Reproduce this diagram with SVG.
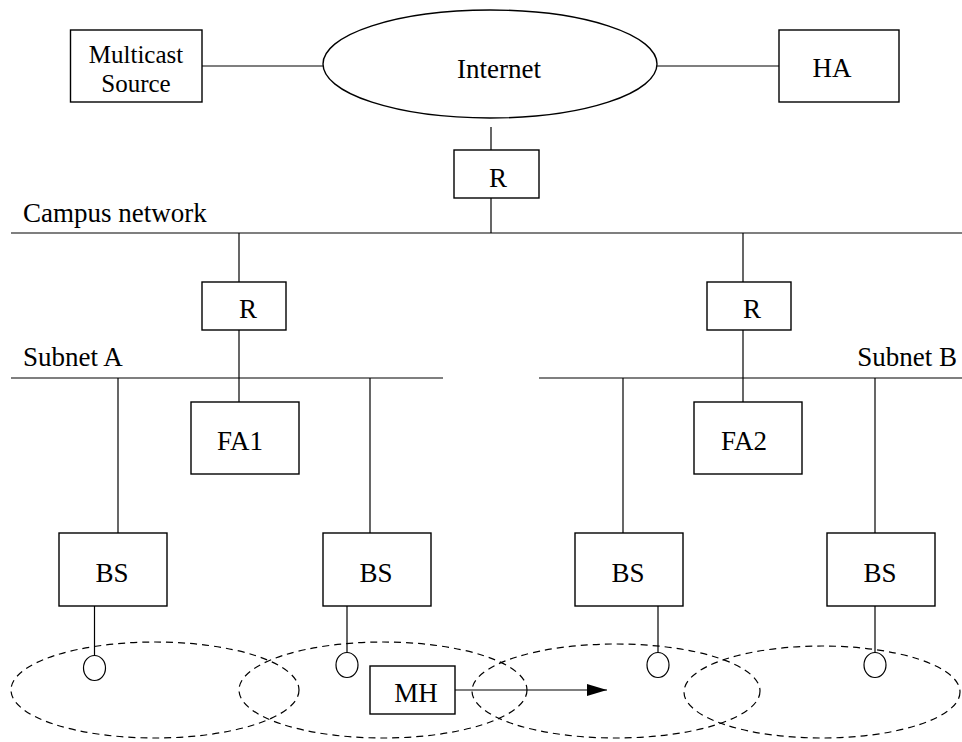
<svg xmlns="http://www.w3.org/2000/svg" width="962" height="742" viewBox="0 0 962 742">
<style>
.box{fill:#fff;stroke:#000;stroke-width:1.4}
.ln{stroke:#000;stroke-width:1.2;fill:none}
.cell{fill:none;stroke:#000;stroke-width:1.2;stroke-dasharray:7 5}
.ant{fill:#fff;stroke:#000;stroke-width:1.2}
text{font-family:"Times New Roman","Liberation Serif","DejaVu Serif",serif;font-size:27px;fill:#000}
.c{text-anchor:middle}
.sm{font-size:25px}
</style>
<defs>
<marker id="ah" markerWidth="20" markerHeight="12" refX="20" refY="6" orient="auto" markerUnits="userSpaceOnUse">
<path d="M0,0 L20,6 L0,12 Z" fill="#000"/>
</marker>
</defs>
<rect width="962" height="742" fill="#fff"/>
<g id="connectors">
<line class="ln" x1="202" y1="66" x2="323" y2="66"/>
<line class="ln" x1="657" y1="66" x2="779" y2="66"/>
<line class="ln" x1="491" y1="127" x2="491" y2="150"/>
<line class="ln" x1="491" y1="198" x2="491" y2="233"/>
<line class="ln" x1="11" y1="233" x2="962" y2="233"/>
<line class="ln" x1="239" y1="233" x2="239" y2="282"/>
<line class="ln" x1="743" y1="233" x2="743" y2="282"/>
<line class="ln" x1="239" y1="330" x2="239" y2="402"/>
<line class="ln" x1="743" y1="330" x2="743" y2="402"/>
<line class="ln" x1="11" y1="378" x2="443" y2="378"/>
<line class="ln" x1="539" y1="378" x2="962" y2="378"/>
<line class="ln" x1="118" y1="378" x2="118" y2="533"/>
<line class="ln" x1="370" y1="378" x2="370" y2="533"/>
<line class="ln" x1="623" y1="378" x2="623" y2="533"/>
<line class="ln" x1="875" y1="378" x2="875" y2="533"/>
<line class="ln" x1="94.5" y1="606" x2="94.5" y2="656"/>
<line class="ln" x1="347" y1="606" x2="347" y2="653"/>
<line class="ln" x1="658" y1="606" x2="658" y2="653"/>
<line class="ln" x1="875" y1="606" x2="875" y2="653"/>
<line class="ln" x1="455" y1="690" x2="607" y2="690" stroke-width="1.6" marker-end="url(#ah)"/>
</g>
<g id="cells">
<ellipse class="cell" cx="155" cy="690" rx="144" ry="48"/>
<ellipse class="cell" cx="383" cy="690" rx="144" ry="48"/>
<ellipse class="cell" cx="616" cy="691" rx="144" ry="47"/>
<ellipse class="cell" cx="822" cy="692" rx="138" ry="46"/>
</g>
<g id="antennas">
<ellipse class="ant" cx="94.5" cy="668" rx="11" ry="12.5"/>
<ellipse class="ant" cx="347" cy="665" rx="11" ry="12.5"/>
<ellipse class="ant" cx="658" cy="665" rx="11" ry="12.5"/>
<ellipse class="ant" cx="875" cy="665" rx="11" ry="12.5"/>
</g>
<g id="multicast-source">
<rect class="box" x="70.5" y="30" width="131.5" height="72"/>
<text class="c sm" x="136" y="63">Multicast</text>
<text class="c sm" x="136" y="92">Source</text>
</g>
<g id="internet">
<ellipse class="box" cx="490" cy="64" rx="167" ry="54" stroke-width="1.2"/>
<text class="c" x="499" y="78">Internet</text>
</g>
<g id="ha">
<rect class="box" x="779" y="30" width="120" height="72"/>
<text class="c" x="832" y="77">HA</text>
</g>
<g id="r-top">
<rect class="box" x="454" y="150" width="85" height="48"/>
<text class="c" x="498" y="187">R</text>
</g>
<g id="campus-label"><text x="23" y="222">Campus network</text></g>
<g id="r-a">
<rect class="box" x="202" y="282" width="84" height="48"/>
<text class="c" x="248" y="318">R</text>
</g>
<g id="r-b">
<rect class="box" x="707" y="282" width="84" height="48"/>
<text class="c" x="752" y="318">R</text>
</g>
<g id="subnet-a-label"><text x="23" y="366">Subnet A</text></g>
<g id="subnet-b-label"><text x="957" y="366" text-anchor="end">Subnet B</text></g>
<g id="fa1">
<rect class="box" x="191" y="402" width="108" height="72"/>
<text class="c" x="240" y="450">FA1</text>
</g>
<g id="fa2">
<rect class="box" x="694" y="402" width="108" height="72"/>
<text class="c" x="744" y="450">FA2</text>
</g>
<g id="bs1">
<rect class="box" x="59" y="533" width="108" height="73"/>
<text class="c" x="112" y="582">BS</text>
</g>
<g id="bs2">
<rect class="box" x="323" y="533" width="108" height="73"/>
<text class="c" x="376" y="582">BS</text>
</g>
<g id="bs3">
<rect class="box" x="575" y="533" width="108" height="73"/>
<text class="c" x="628" y="582">BS</text>
</g>
<g id="bs4">
<rect class="box" x="827" y="533" width="108" height="73"/>
<text class="c" x="880" y="582">BS</text>
</g>
<g id="mh">
<rect class="box" x="370" y="666" width="85" height="48"/>
<text class="c" x="416" y="702">MH</text>
</g>
</svg>
